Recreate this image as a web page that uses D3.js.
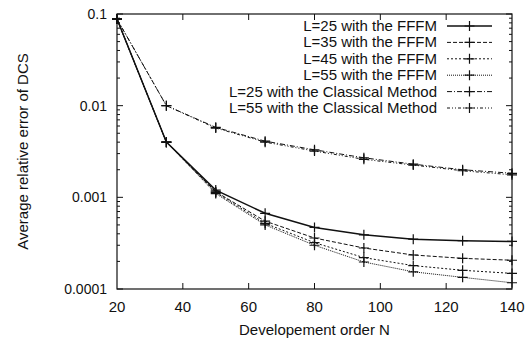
<!DOCTYPE html>
<html>
<head>
<meta charset="utf-8">
<script src="https://cdn.jsdelivr.net/npm/d3@7"></script>
<style>
  body { margin: 0; background: #fff; }
  svg text { font-family: "Liberation Sans", Arial, sans-serif; fill: #111; }
</style>
</head>
<body>
<svg id="chart" width="532" height="339"></svg>
<script>
// development order N
const orders = [20, 35, 50, 65, 80, 95, 110, 125, 140];

// average relative error values
const fffmL25 = [0.088, 0.004, 0.0012, 0.00067, 0.00047, 0.00039, 0.00035, 0.000336, 0.00033];
const fffmL35 = [0.088, 0.004, 0.00115, 0.00055, 0.00036, 0.00028, 0.000235, 0.000216, 0.000206];
const fffmL45 = [0.088, 0.004, 0.00113, 0.00052, 0.00032, 0.00022, 0.00018, 0.00016, 0.000148];
const fffmL55 = [0.088, 0.004, 0.0011, 0.0005, 0.0003, 0.000197, 0.000154, 0.000134, 0.000117];
const classicL25 = [0.088, 0.01, 0.0058, 0.0041, 0.0033, 0.0027, 0.0023, 0.002, 0.00183];
const classicL55 = [0.088, 0.01, 0.0057, 0.004, 0.0032, 0.0026, 0.00225, 0.00195, 0.00176];

const seriesNames = [
    "L=25 with the FFFM",
    "L=35 with the FFFM",
    "L=45 with the FFFM",
    "L=55 with the FFFM",
    "L=25 with the Classical Method",
    "L=55 with the Classical Method"
];
const seriesValues = [fffmL25, fffmL35, fffmL45, fffmL55, classicL25, classicL55];
const dashes = [null, "4,2", "2,2", "1,1", "5,2,1,2", "3,2,1,2,1,2"];
const widths = [1.5, 1, 1, 1, 1, 1];

const xTicks = [20, 40, 60, 80, 100, 120, 140];
const yTicks = [0.0001, 0.001, 0.01, 0.1];
const yTickLabels = ["0.0001", "0.001", "0.01", "0.1"];

const margin = {top: 14, right: 20, bottom: 50, left: 117};
const width = 532, height = 339;

const svg = d3.select("#chart");

const x = d3.scaleLinear()
    .domain([20, 140])
    .range([margin.left, width - margin.right]);

const y = d3.scaleLog()
    .domain([0.0001, 0.1])
    .range([height - margin.bottom, margin.top]);

// minor ticks for the log axis
const minor = [];
[0.0001, 0.001, 0.01].forEach(d => {
    for (let k = 2; k <= 9; k++) minor.push(d * k);
});

const g = svg.append("g");

// frame
g.append("rect")
    .attr("x", x(20)).attr("y", y(0.1))
    .attr("width", x(140) - x(20))
    .attr("height", y(0.0001) - y(0.1))
    .attr("fill", "none")
    .attr("stroke", "#111")
    .attr("stroke-width", 1.2);

// ticks, pointing inwards on all sides
const tickG = g.append("g").attr("stroke", "#111").attr("stroke-width", 1);

tickG.selectAll(".xb")
    .data(xTicks.slice(1, -1))
    .join("line")
    .attr("x1", d => x(d)).attr("x2", d => x(d))
    .attr("y1", y(0.0001)).attr("y2", y(0.0001) - 6);

tickG.selectAll(".xt")
    .data(xTicks.slice(1, -1))
    .join("line")
    .attr("class", "xt")
    .attr("x1", d => x(d)).attr("x2", d => x(d))
    .attr("y1", y(0.1)).attr("y2", y(0.1) + 6);

[x(20), x(140)].forEach((px, side) => {
    const dir = side === 0 ? 1 : -1;
    tickG.append("g").selectAll("line")
        .data(yTicks)
        .join("line")
        .attr("x1", px).attr("x2", px + dir * 6)
        .attr("y1", d => y(d)).attr("y2", d => y(d));
    tickG.append("g").selectAll("line")
        .data(minor)
        .join("line")
        .attr("x1", px).attr("x2", px + dir * 3)
        .attr("y1", d => y(d)).attr("y2", d => y(d));
});

// tick labels
g.selectAll(".xl")
    .data(xTicks)
    .join("text")
    .attr("class", "xl")
    .attr("x", d => x(d))
    .attr("y", y(0.0001) + 23)
    .attr("text-anchor", "middle")
    .attr("font-size", 15)
    .text(d => d);

g.selectAll(".yl")
    .data(yTicks)
    .join("text")
    .attr("class", "yl")
    .attr("x", x(20) - 10)
    .attr("y", d => y(d) + 5)
    .attr("text-anchor", "end")
    .attr("font-size", 14)
    .text((d, i) => yTickLabels[i]);

// axis titles
g.append("text")
    .attr("x", (x(20) + x(140)) / 2)
    .attr("y", 335)
    .attr("text-anchor", "middle")
    .attr("font-size", 15)
    .text("Developement order N");

g.append("text")
    .attr("transform", `translate(28, ${(y(0.1) + y(0.0001)) / 2}) rotate(-90)`)
    .attr("text-anchor", "middle")
    .attr("font-size", 15)
    .text("Average relative error of DCS");

// series
const line = d3.line()
    .x((d, i) => x(orders[i]))
    .y(d => y(d));

const plus = 5;

seriesValues.forEach((vals, s) => {
    g.append("path")
        .datum(vals)
        .attr("d", line)
        .attr("fill", "none")
        .attr("stroke", "#111")
        .attr("stroke-width", widths[s])
        .attr("stroke-dasharray", dashes[s]);

    g.append("g")
        .selectAll("path")
        .data(vals)
        .join("path")
        .attr("d", (d, i) => {
            const cx = x(orders[i]), cy = y(d);
            return `M${cx - plus},${cy}H${cx + plus}M${cx},${cy - plus}V${cy + plus}`;
        })
        .attr("stroke", "#111")
        .attr("stroke-width", 1.2);
});

// legend
const legend = g.append("g");
const rowY = i => 26 + i * 16.4;

legend.selectAll("text")
    .data(seriesNames)
    .join("text")
    .attr("x", 437)
    .attr("y", (d, i) => rowY(i) + 5)
    .attr("text-anchor", "end")
    .attr("font-size", 15)
    .text(d => d);

legend.selectAll(".sample")
    .data(seriesNames)
    .join("line")
    .attr("x1", 447).attr("x2", 492)
    .attr("y1", (d, i) => rowY(i)).attr("y2", (d, i) => rowY(i))
    .attr("stroke", "#111")
    .attr("stroke-width", (d, i) => widths[i])
    .attr("stroke-dasharray", (d, i) => dashes[i]);

legend.selectAll(".mark")
    .data(seriesNames)
    .join("path")
    .attr("d", (d, i) => `M${469.5 - plus},${rowY(i)}H${469.5 + plus}M469.5,${rowY(i) - plus}V${rowY(i) + plus}`)
    .attr("stroke", "#111")
    .attr("stroke-width", 1.2);
</script>
</body>
</html>
